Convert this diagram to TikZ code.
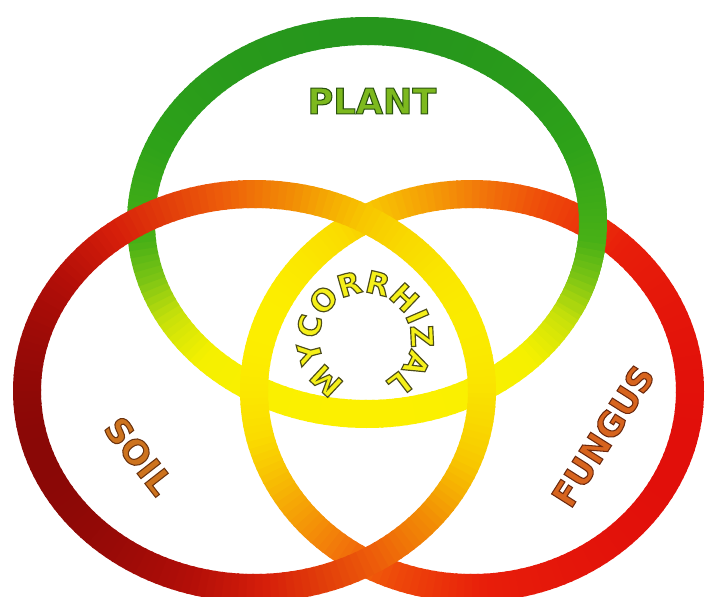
\documentclass[tikz,border=0pt]{standalone}
\usepackage{fontspec}
\setmainfont{DejaVu Sans}
\usetikzlibrary{decorations.text}

\definecolor{plantFill}{RGB}{125,185,30}
\definecolor{soilFill}{RGB}{205,115,30}
\definecolor{fungFill}{RGB}{215,100,30}
\definecolor{mycFill}{RGB}{245,240,25}

\newcommand\topstops{0/252/240/0, 0.15/245/240/0, 0.25/200/225/10, 0.35/125/197/20, 0.45/72/176/22, 0.7/46/162/25, 1/38/150/28}
\newcommand\leftstops{0/138/8/6, 0.2/178/14/8, 0.35/214/30/10, 0.6/237/92/10, 0.75/242/142/5, 0.88/248/200/0, 1/250/235/0}
\newcommand\rightstops{0/225/15/10, 0.3/232/30/10, 0.5/238/72/10, 0.65/242/118/10, 0.8/246/172/5, 0.92/250/220/0, 1/252/238/0}

\newcommand\gradcolor[2]{%
  \xdef\gps{-1}\xdef\gpr{0}\xdef\gpg{0}\xdef\gpb{0}%
  \foreach \stT/\stR/\stG/\stB in #2{%
    \pgfmathparse{and(#1>=\gps,#1<=\stT)}%
    \ifdim\pgfmathresult pt>0.5pt
      \pgfmathsetmacro\gf{(#1-\gps)/(\stT-\gps)}%
      \pgfmathtruncatemacro\gR{round(\gpr+(\stR-\gpr)*\gf)}%
      \pgfmathtruncatemacro\gG{round(\gpg+(\stG-\gpg)*\gf)}%
      \pgfmathtruncatemacro\gB{round(\gpb+(\stB-\gpb)*\gf)}%
      \xdef\gcR{\gR}\xdef\gcG{\gG}\xdef\gcB{\gB}%
    \fi
    \xdef\gps{\stT}\xdef\gpr{\stR}\xdef\gpg{\stG}\xdef\gpb{\stB}%
  }%
  \definecolor{segc}{RGB}{\gcR,\gcG,\gcB}%
}

% outlined text: fill in the current colour, stroke in the given PDF colour
\newcommand\outl[2]{\special{pdf:literal direct 2 Tr 0.9 w #1 RG}#2\special{pdf:literal direct 0 Tr}}

\newcommand\bigfont{\fontsize{30}{36}\selectfont\bfseries}
\newcommand\midfont{\fontsize{29}{35}\selectfont\bfseries}
\newcommand\mycfont{\fontsize{26}{30}\selectfont\bfseries}

\begin{document}
\begin{tikzpicture}[x=0.03cm, y=-0.03cm,
  ringline/.style={line width=0.84cm, line cap=butt},
  lab/.style={inner sep=0pt, outer sep=0pt}]
\useasboundingbox (0,0) rectangle (710,596);
\fill[white] (0,0) rectangle (710,596);
\clip (0,0) rectangle (710,596);

% top ring (PLANT)
\foreach \a in {0,2,...,358}{%
  \pgfmathsetmacro\tval{0.5-0.5*sin(\a+1)}%
  \gradcolor{\tval}{\topstops}%
  \draw[ringline, segc] (367,222.5) ++(\a:226 and 191.5)
    arc[start angle=\a, delta angle=2.6, x radius=226, y radius=191.5];
}
% right ring (FUNGUS)
\foreach \a in {0,2,...,358}{%
  \pgfmathsetmacro\tval{0.5-0.5*cos(\a+1-20)}%
  \gradcolor{\tval}{\rightstops}%
  \draw[ringline, segc] (472,391) ++(\a:218 and 197)
    arc[start angle=\a, delta angle=2.6, x radius=218, y radius=197];
}
% left ring (SOIL)
\foreach \a in {0,2,...,358}{%
  \pgfmathsetmacro\tval{0.5+0.5*cos(\a+1+20)}%
  \gradcolor{\tval}{\leftstops}%
  \draw[ringline, segc] (254.5,391) ++(\a:227.5 and 197)
    arc[start angle=\a, delta angle=2.6, x radius=227.5, y radius=197];
}
% top ring passes over the right ring at the upper right
\foreach \a in {-26,-24,...,24}{%
  \pgfmathsetmacro\tval{0.5-0.5*sin(\a+1)}%
  \gradcolor{\tval}{\topstops}%
  \draw[ringline, segc] (367,222.5) ++(\a:226 and 191.5)
    arc[start angle=\a, delta angle=2.6, x radius=226, y radius=191.5];
}

% labels
\node[lab, font=\bigfont, text=plantFill] (plant) at (372,101) {\outl{0.16 0.32 0.06}{PLANT}};
\node[lab, font=\midfont, text=soilFill, rotate=-52] (soil) at (139,456) {\outl{0.42 0.2 0.06}{SOIL}};
\node[lab, font=\midfont, text=fungFill, rotate=57.6] (fungus) at (603,436) {\outl{0.42 0.16 0.06}{FUNGUS}};

% MYCORRHIZAL along a circle
\path[decorate, decoration={text along path,
    text={|\mycfont\special{pdf:literal direct 2 Tr 1 w 0.3 0.3 0.1 RG}|MYCORRHIZAL},
    text color=mycFill, text align={fit to path}}]
  (365,339) ++(114:46) arc[start angle=114, delta angle=308, radius=46];
\special{pdf:literal direct 0 Tr}
\end{tikzpicture}
\end{document}
